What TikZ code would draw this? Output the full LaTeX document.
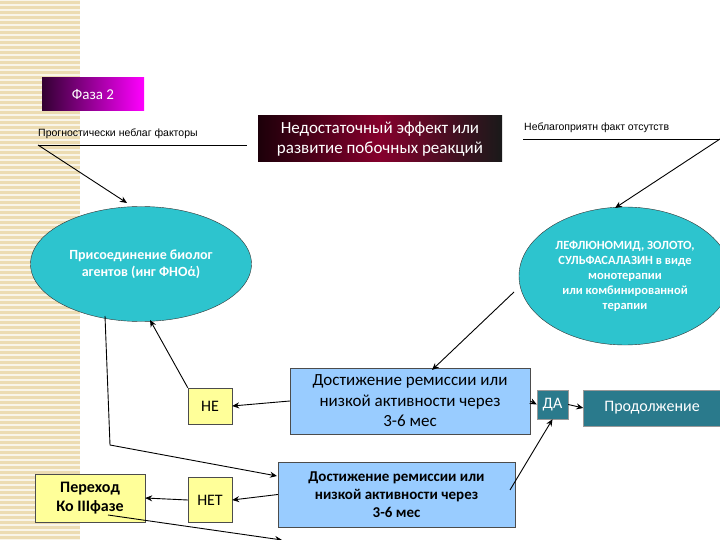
\documentclass[tikz,border=0pt]{standalone}
\usepackage{fontspec}
\setmainfont{Carlito}
\newfontfamily\smallsans{Liberation Sans}
\usetikzlibrary{shapes.geometric,arrows.meta}
\definecolor{cyanfill}{RGB}{45,196,206}
\definecolor{lblue}{RGB}{153,204,255}
\definecolor{yel}{RGB}{255,255,153}
\definecolor{teal2}{RGB}{42,122,140}
\definecolor{beige}{RGB}{236,220,178}
\newcommand{\fs}[1]{\fontsize{#1}{#1}\selectfont\setlength\baselineskip{1.2\baselineskip}}
\begin{document}
\begin{tikzpicture}[x=1pt,y=-1pt,
  arr/.style={-{Stealth[length=7pt,width=6pt]},line width=0.9pt},
  ell/.style={ellipse,draw=black!80,fill=cyanfill,text=white,align=center,inner sep=0pt},
  bbox/.style={draw=black!70,fill=lblue,align=center,inner sep=0pt},
  ybox/.style={draw=black!70,fill=yel,align=center,inner sep=0pt},
  tbox/.style={draw=black!40,fill=teal2,text=white,align=center,inner sep=0pt,font=\fs{16}},
  lab/.style={font=\smallsans\fs{10.5},anchor=base west,inner sep=0pt}]
\useasboundingbox (0,0) rectangle (720,540);
\fill[white] (0,0) rectangle (720,540);
\fill[beige] (0,0) rectangle (80,540);
\foreach \y in {0,5,...,540} \draw[white!70!beige,line width=1.2pt] (0,\y) -- (80,\y);
% Phase box
\node[left color=black!80!magenta,right color=magenta,text=white,minimum width=102pt,minimum height=33pt,inner sep=0pt,font=\fs{15}] (phase) at (93,94.5) {Фаза 2};
\node[lab] (prog) at (38,137) {Прогностически неблаг факторы};
\draw (38,145) coordinate (pl) -- (247,145);
\node[left color=black!85!purple,right color=black!90,middle color=purple!70!black,text=white,minimum width=244pt,minimum height=46pt,inner sep=0pt,align=center,font=\fs{17}] (insuf) at (380,139) {Недостаточный эффект или\\развитие побочных реакций};
\node[lab] (nebl) at (524,131) {Неблагоприятн факт отсутств};
\draw (523,139) -- (720,139) coordinate (pr);
% ellipses
\node[ell,minimum width=221pt,minimum height=115pt,font=\bfseries\fs{14}] (e1) at (141,264) {Присоединение биолог\\агентов (инг ФНОά)};
\node[ell,minimum width=212pt,minimum height=138pt,font=\bfseries\fs{12.5}] (e2) at (625,276) {ЛЕФЛЮНОМИД, ЗОЛОТО,\\СУЛЬФАСАЛАЗИН в виде\\монотерапии\\или комбинированной\\терапии};
% boxes
\node[bbox,minimum width=240pt,minimum height=66pt,font=\fs{17}] (b1) at (410,401) {Достижение ремиссии или\\низкой активности через\\3-6 мес};
\node[bbox,minimum width=237pt,minimum height=65pt,font=\bfseries\fs{15}] (b2) at (396.5,494.5) {Достижение ремиссии или\\низкой активности через\\3-6 мес};
\node[ybox,minimum width=44pt,minimum height=36pt,font=\fs{16}] (ne) at (210,406) {НЕ};
\node[ybox,minimum width=44pt,minimum height=45pt,font=\fs{16}] (net) at (210,500) {НЕТ};
\node[ybox,minimum width=110pt,minimum height=48pt,font=\bfseries\fs{16}] (per) at (90,498) {Переход\\Ко IIIфазе};
\node[tbox,minimum width=31pt,minimum height=29pt] (da) at (552.5,404.5) {ДА};
\node[tbox,minimum width=137pt,minimum height=36pt] (cont) at (652,408) {Продолжение};
% connectors
\coordinate (t1) at (127,203);
\draw[arr] (pl) -- (t1);
\coordinate (t2) at (615,208);
\draw[arr] (pr) -- (t2);
\coordinate (s3) at (514,292);
\coordinate (t3) at (432,370);
\draw[arr] (s3) -- (t3);
\draw[arr] (b1.west) -- (ne.east);
\draw[arr] (ne.north west) -- (150,320);
\draw[arr] (b1.east) -- (da.west);
\draw[arr] (da.east) -- (cont.west);
\coordinate (c0) at (105,316);
\coordinate (c1) at (110,445);
\coordinate (t4) at (277,476);
\draw[arr] (c0) -- (c1) -- (t4);
\draw[arr] (b2.west) -- (net.east);
\draw[arr] (net.west) -- (per.east);
\coordinate (c2) at (282,540);
\draw[arr] (108,515) -- (c2);
\draw[arr] (510,490) -- (da.south);
\end{tikzpicture}
\end{document}
